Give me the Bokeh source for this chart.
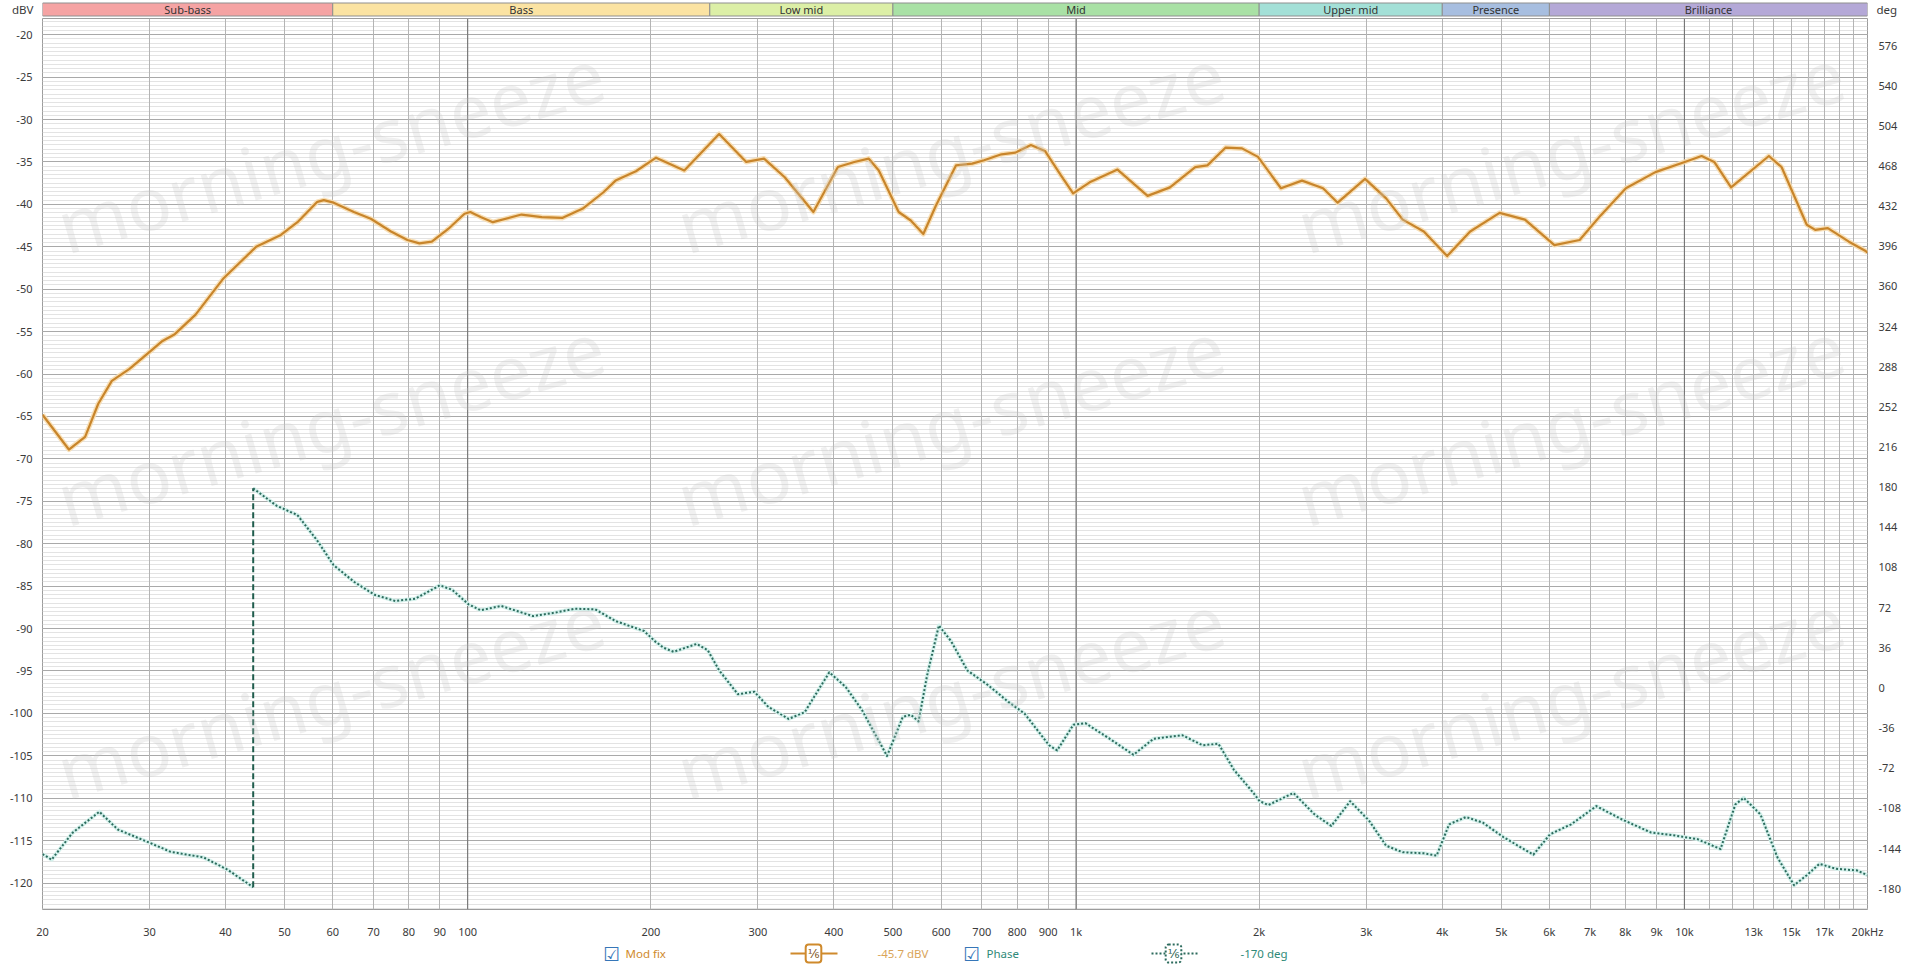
import numpy as np
from bokeh.plotting import figure
from bokeh.layouts import column
from bokeh.models import Range1d, LinearAxis, FixedTicker, Grid, Span, Label
from bokeh.core.properties import value
from bokeh.embed import file_html
from bokeh.resources import INLINE

# ---------------- data ----------------
band_names = ["Sub-bass", "Bass", "Low mid", "Mid", "Upper mid", "Presence", "Brilliance"]
band_lo = [20, 60, 250, 500, 2000, 4000, 6000]
band_hi = [60, 250, 500, 2000, 4000, 6000, 20000]
band_colors = ["#f5a3a3", "#fbe3a2", "#dcefa6", "#a9e1a5", "#a3e0d7", "#a7bee0", "#b4a8d7"]

mag_freq = [20, 22.1, 23.5, 24.7, 26.0, 27.8, 30.1, 31.5, 33.0, 35.7,
            39.7, 44.9, 49.3, 52.5, 56.6, 58.0, 60.2, 65.0, 69.3, 74.8,
            79.6, 83.3, 87.3, 92.9, 98.8, 101, 105, 110, 122.6, 132.4,
            143, 154.6, 167, 175, 189, 204, 227, 259, 287, 307,
            332, 370, 406, 432, 456, 474, 511, 535, 561, 588,
            635, 675, 706, 754, 795, 843, 889, 945, 989, 1053,
            1170, 1311, 1427, 1570, 1644, 1762, 1874, 1991, 2172, 2352,
            2547, 2692, 2986, 3234, 3444, 3730, 4074, 4445, 4969, 5469,
            6115, 6727, 7285, 8014, 8961, 10014, 10675, 11197, 11934, 13770,
            14446, 15892, 16410, 17212, 18640, 19860, 20000]
mag_dbv = [-64.8, -68.9, -67.4, -63.5, -60.8, -59.4, -57.3, -56.1, -55.3, -53.0,
           -48.7, -45.0, -43.6, -42.1, -39.7, -39.5, -39.8, -40.9, -41.7, -43.2,
           -44.2, -44.6, -44.4, -42.9, -41.1, -40.9, -41.5, -42.1, -41.2, -41.5,
           -41.6, -40.5, -38.6, -37.2, -36.1, -34.5, -36.0, -31.7, -35.0, -34.6,
           -36.8, -40.9, -35.6, -35.0, -34.6, -36.0, -40.9, -41.9, -43.5, -40.2,
           -35.4, -35.2, -34.8, -34.1, -33.9, -33.0, -33.7, -36.6, -38.7, -37.4,
           -35.9, -39.0, -38.0, -35.6, -35.4, -33.3, -33.4, -34.4, -38.1, -37.2,
           -38.1, -39.8, -37.0, -39.3, -41.8, -43.2, -46.1, -43.2, -41.0, -41.8,
           -44.8, -44.2, -41.3, -38.1, -36.2, -35.0, -34.3, -35.0, -38.0, -34.3,
           -35.6, -42.4, -43.0, -42.8, -44.4, -45.5, -45.7]

# phase before the +-180 wrap
phase_freq_a = [20, 20.7, 22.4, 24.8, 26.6, 29.6, 32.5, 36.8, 40.3, 44.4]
phase_deg_a = [-149, -154, -130, -111, -127, -137.5, -147, -152, -163, -178.7]
# phase after the wrap
phase_freq_b = [44.4, 48.5, 52.5, 56.6, 60.2, 65.1, 70.3, 76, 82, 90,
                94.3, 100.3, 105, 113.5, 128, 138.8, 150, 162, 175, 195,
                203, 210, 218, 238, 248, 259, 278, 296, 312, 337,
                358, 393, 418, 445, 489, 519, 535, 551, 569, 595,
                623, 663, 716, 774, 823, 903, 931, 990, 1036, 1135,
                1243, 1342, 1495, 1614, 1714, 1818, 1956, 2004, 2071, 2277,
                2466, 2628, 2823, 3034, 3234, 3444, 3730, 3915, 4105, 4375,
                4662, 5051, 5646, 6016, 6515, 7168, 7887, 8818, 9549, 10505,
                11468, 12127, 12519, 13337, 14220, 15150, 15892, 16670, 17766, 19236,
                20000]
phase_deg_b = [179, 163.4, 155, 132, 110, 95, 83.5, 78, 80, 92,
               88, 75, 69.7, 73.5, 64.4, 67.4, 71, 70.5, 60, 51,
               42, 36, 32.4, 39.5, 33.9, 15.8, -5.6, -3.4, -17, -27.8,
               -21.8, 14, 1, -20, -61, -26, -24, -30, 11, 56,
               42, 15.6, 2.7, -12.5, -23, -51.4, -56, -33, -31.6, -45.5,
               -60, -45.5, -42.4, -51.4, -50, -73.5, -94, -101.6, -105, -94.2,
               -113.4, -123.8, -101.6, -119.3, -141.5, -147.4, -148.3, -150.4, -122.3, -115.8,
               -120.8, -134.1, -149.5, -131.2, -122.3, -106, -117.8, -129.7, -132, -135.6,
               -144.5, -104.5, -98.6, -113.4, -151.9, -177, -168, -157.8, -162.2, -163.7,
               -168]

x_tick_values = [20, 30, 40, 50, 60, 70, 80, 90, 100, 200, 300, 400, 500, 600, 700, 800, 900,
                 1000, 2000, 3000, 4000, 5000, 6000, 7000, 8000, 9000, 10000, 13000, 15000, 17000, 20000]
x_tick_labels = ["20", "30", "40", "50", "60", "70", "80", "90", "100", "200", "300", "400", "500",
                 "600", "700", "800", "900", "1k", "2k", "3k", "4k", "5k", "6k", "7k", "8k", "9k",
                 "10k", "13k", "15k", "17k", "20kHz"]
x_extra_grid = [11000, 12000, 14000, 16000, 18000, 19000]
x_decades = [100, 1000, 10000]
db_ticks = list(range(-120, -19, 5))
deg_ticks = list(range(-180, 577, 36))

left_unit = "dBV"
right_unit = "deg"
legend_mag_name = "Mod fix"
legend_mag_value = "-45.7 dBV"
legend_phase_name = "Phase"
legend_phase_value = "-170 deg"
smoothing = "\u2159"
watermark = "morning-sneeze"

assert len(mag_freq) == len(mag_dbv)
assert len(phase_freq_a) == len(phase_deg_a)
assert len(phase_freq_b) == len(phase_deg_b)

# ---------------- layout (page pixels; the Bokeh page has no margin) ----------------
W = 1918
TOP_H = 17            # band strip: page y 0..17
ML, MR = 42, 51       # frame: page x 42..1867 (column aligns all frames)
MT, MB = 1, 25        # main frame: page y 18..916
FRAME_H = 898
MAIN_H = MT + FRAME_H + MB
BOT_H = 25
FRAME_W = W - ML - MR
Y0, Y1 = -123.12, -18.09      # dBV at frame bottom / top
D0, D1 = -198.7, 600.3        # deg at frame bottom / top


def fx(px):
    """page x pixel -> Hz, on the log scale shared by every frame"""
    return 20 * 10 ** ((px - ML) / FRAME_W * 3)


FONT = "Noto Sans"
TICK_COLOR = "#3a3a3a"


def strip(height):
    f = figure(width=W, height=height, x_axis_type="log",
               x_range=Range1d(20, 20000), y_range=Range1d(height, 0),
               output_backend="svg", toolbar_location=None,
               min_border_left=ML, min_border_right=MR, min_border_top=0, min_border_bottom=0)
    f.xaxis.visible = False
    f.grid.visible = False
    f.outline_line_color = None
    f.background_fill_color = "white"
    f.border_fill_color = "white"
    return f


def unit_axis(ax, pos, text):
    ax.ticker = FixedTicker(ticks=[pos])
    ax.major_label_overrides = {pos: text}
    ax.major_tick_line_color = None
    ax.minor_tick_line_color = None
    ax.axis_line_color = None
    ax.major_label_standoff = 3
    ax.major_label_text_font = FONT
    ax.major_label_text_font_size = "11.5px"
    ax.major_label_text_color = TICK_COLOR


# ---------------- top strip: band header + unit labels ----------------
top = strip(TOP_H)
top.quad(left=band_lo, right=band_hi, top=2.5, bottom=15.5,
         fill_color=band_colors, line_color="#8f8f8f", line_width=1)
band_mid = [np.sqrt(a * b) for a, b in zip(band_lo, band_hi)]
top.text(x=band_mid, y=[9.2] * len(band_mid), text=band_names,
         text_font=value(FONT), text_font_size="11px", text_color="#333333",
         text_align="center", text_baseline="middle")
unit_axis(top.yaxis[0], 8.5, left_unit)
tr = LinearAxis()
unit_axis(tr, 8.5, right_unit)
top.add_layout(tr, "right")

# ---------------- main plot ----------------
p = figure(width=W, height=MAIN_H, x_axis_type="log",
           x_range=Range1d(20, 20000), y_range=Range1d(Y0, Y1),
           output_backend="svg", toolbar_location=None,
           min_border_left=ML, min_border_right=MR, min_border_top=MT, min_border_bottom=MB)
p.extra_y_ranges = {"deg": Range1d(D0, D1)}
p.background_fill_color = "white"
p.border_fill_color = "white"
p.outline_line_color = "#9c9c9c"

xa = p.xaxis[0]
xa.ticker = FixedTicker(ticks=x_tick_values)
xa.major_label_overrides = {v: l for v, l in zip(x_tick_values, x_tick_labels)}
xa.major_tick_line_color = None
xa.minor_tick_line_color = None
xa.axis_line_color = None
xa.major_label_standoff = 8
xa.major_label_text_font = FONT
xa.major_label_text_font_size = "11px"
xa.major_label_text_color = TICK_COLOR

ya = p.yaxis[0]
ya.ticker = FixedTicker(ticks=db_ticks, minor_ticks=list(np.arange(-123.0, -18.0, 0.5)))
ya.major_label_overrides = {v: str(v) for v in db_ticks}
ya.major_tick_line_color = None
ya.minor_tick_line_color = None
ya.axis_line_color = None
ya.major_label_standoff = 4
ya.major_label_text_font = FONT
ya.major_label_text_font_size = "11px"
ya.major_label_text_color = TICK_COLOR

ra = LinearAxis(y_range_name="deg", ticker=FixedTicker(ticks=deg_ticks))
ra.major_label_overrides = {v: str(v) for v in deg_ticks}
ra.major_tick_line_color = None
ra.minor_tick_line_color = None
ra.axis_line_color = None
ra.major_label_standoff = 5
ra.major_label_text_font = FONT
ra.major_label_text_font_size = "11px"
ra.major_label_text_color = TICK_COLOR
p.add_layout(ra, "right")

p.xgrid.grid_line_color = None
p.add_layout(Grid(dimension=0, ticker=FixedTicker(ticks=x_tick_values + x_extra_grid),
                  grid_line_color="#b4b4b4", grid_line_width=1))
for d in x_decades:
    p.add_layout(Span(location=d, dimension="height", line_color="#6e6e6e", line_width=1, level="underlay"))
p.ygrid.grid_line_color = "#a9a9a9"
p.ygrid.minor_grid_line_color = "#e3e3e3"


def fy_main(py):
    return Y1 - (py - TOP_H - MT) * (Y1 - Y0) / FRAME_H


for cy in [150, 425, 700]:
    for cx in [330, 950, 1570]:
        p.add_layout(Label(x=fx(cx), y=fy_main(cy), text=watermark, angle=0.28,
                           text_align="center", text_baseline="middle",
                           text_font=FONT, text_font_size="74px",
                           text_color="#c8c8c8", text_alpha=0.28))

# magnitude
p.line(mag_freq, mag_dbv, line_color="#f7dcae", line_width=5, line_alpha=0.9, line_join="round")
p.line(mag_freq, mag_dbv, line_color="#c8852b", line_width=2.2, line_join="round")

# phase
p.line(phase_freq_a, phase_deg_a, y_range_name="deg", line_color="#d5f1ec", line_width=4, line_join="round")
p.line(phase_freq_b, phase_deg_b, y_range_name="deg", line_color="#d5f1ec", line_width=4, line_join="round")
p.line([phase_freq_a[-1], phase_freq_b[0]], [phase_deg_a[-1], phase_deg_b[0]], y_range_name="deg",
       line_color="#1f5c4c", line_width=2, line_dash="6 3")
p.line(phase_freq_a, phase_deg_a, y_range_name="deg", line_color="#2c6b5d", line_width=2,
       line_dash="2 2", line_join="round")
p.line(phase_freq_b, phase_deg_b, y_range_name="deg", line_color="#2c6b5d", line_width=2,
       line_dash="2 2", line_join="round")

# ---------------- bottom strip: legend row ----------------
bot = strip(BOT_H)
bot.yaxis.visible = False

LY = 12
ORANGE = "#cf8a2c"
TEAL = "#2f8a78"
DARK_TEAL = "#2c6b5d"


def check_box(px):
    bot.add_layout(Label(x=fx(px), y=LY, text="\u2611", text_align="center", text_baseline="middle",
                         text_font="DejaVu Sans", text_font_size="19px", text_color="#3676b8"))


check_box(611)
bot.add_layout(Label(x=fx(625), y=LY, text=legend_mag_name, text_align="left", text_baseline="middle",
                     text_font=FONT, text_font_size="11.5px", text_color=ORANGE))
bot.line([fx(790), fx(837)], [LY, LY], line_color=ORANGE, line_width=2)
bot.add_layout(Label(x=fx(813), y=LY, text=smoothing, text_align="center", text_baseline="middle",
                     text_font="DejaVu Sans", text_font_size="12px", text_color="#7a4e14",
                     border_line_color=ORANGE, border_line_width=2, background_fill_color="white",
                     padding=2, border_radius=3))
bot.add_layout(Label(x=fx(877), y=LY, text=legend_mag_value, text_align="left", text_baseline="middle",
                     text_font=FONT, text_font_size="11.5px", text_color="#d9a458"))

check_box(971)
bot.add_layout(Label(x=fx(986), y=LY, text=legend_phase_name, text_align="left", text_baseline="middle",
                     text_font=FONT, text_font_size="11.5px", text_color=TEAL))
bot.line([fx(1151), fx(1198)], [LY, LY], line_color=DARK_TEAL, line_width=2, line_dash="2 2")
bot.add_layout(Label(x=fx(1173), y=LY, text=smoothing, text_align="center", text_baseline="middle",
                     text_font="DejaVu Sans", text_font_size="12px", text_color="#1f5c4c",
                     border_line_color=DARK_TEAL, border_line_width=2, border_line_dash="2 2",
                     background_fill_color="white", padding=2, border_radius=3))
bot.add_layout(Label(x=fx(1240), y=LY, text=legend_phase_value, text_align="left", text_baseline="middle",
                     text_font=FONT, text_font_size="11.5px", text_color=TEAL))

layout = column(top, p, bot, spacing=0)
open("out.html", "w").write(file_html(layout, INLINE))
